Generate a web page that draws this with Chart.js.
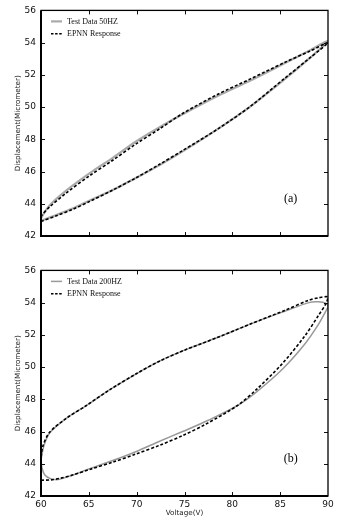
<!DOCTYPE html>
<html>
<head>
<meta charset="utf-8">
<script src="https://cdn.jsdelivr.net/npm/chart.js@4"></script>
<style>
  html, body { margin: 0; padding: 0; background: #fff; }
  #wrap { position: relative; width: 346px; height: 519px; }
  canvas { position: absolute; left: 0; }
  #chartA { top: 0; }
  #chartB { top: 260px; }
</style>
</head>
<body>
<div id="wrap">
  <canvas id="chartA" width="346" height="260"></canvas>
  <canvas id="chartB" width="346" height="259"></canvas>
</div>
<script>
const voltTicks = [60, 65, 70, 75, 80, 85, 90];
const dispTicks = [42, 44, 46, 48, 50, 52, 54, 56];

// (a) 50 Hz loop: rising branch then falling branch
const testA_v = [60.0, 61.6, 63.3, 65.1, 67.5, 69.9, 72.4, 74.8, 78.5, 81.9, 85.4, 88.2, 90.0,
                 88.2, 85.4, 81.9, 78.5, 74.8, 72.4, 69.9, 67.5, 65.1, 62.6, 60.9, 60.0, 60.0];
const testA_d = [42.95, 43.3, 43.7, 44.2, 44.85, 45.6, 46.4, 47.25, 48.65, 50.05, 51.7, 53.1, 54.1,
                 53.55, 52.7, 51.65, 50.7, 49.55, 48.75, 47.85, 46.85, 45.9, 44.8, 43.9, 43.1, 42.95];
const epnnA_v = [60.0, 61.6, 63.3, 65.1, 67.5, 69.9, 72.4, 74.8, 78.5, 81.9, 85.4, 88.2, 90.0,
                 88.2, 85.4, 81.9, 78.5, 74.8, 72.4, 69.9, 67.5, 65.1, 62.6, 60.9, 60.0, 60.0];
const epnnA_d = [42.9, 43.25, 43.65, 44.15, 44.85, 45.6, 46.45, 47.3, 48.65, 50.05, 51.75, 53.1, 54.0,
                 53.5, 52.75, 51.75, 50.8, 49.6, 48.65, 47.7, 46.7, 45.75, 44.65, 43.8, 43.2, 42.9];

// (b) 200 Hz loop
const testB_v = [60.0, 60.1, 60.4, 61.0, 61.8, 63.3, 65.1, 67.5, 69.9, 72.4, 74.8, 77.5, 80.5, 82.5,
                 85.2, 87.6, 89.0, 89.7, 90.0, 89.8, 89.0, 88.0, 85.4, 82.0, 78.5, 75.0, 72.5, 70.0,
                 67.2, 64.7, 62.6, 60.9, 60.3, 60.0];
const testB_d = [44.25, 43.75, 43.3, 43.08, 43.02, 43.3, 43.7, 44.2, 44.75, 45.4, 46.0, 46.7, 47.6, 48.45,
                 49.85, 51.45, 52.65, 53.4, 53.75, 53.95, 54.05, 54.0, 53.45, 52.7, 51.85, 51.05, 50.4, 49.6,
                 48.6, 47.6, 46.8, 45.9, 45.1, 44.25];
const epnnB_v = [60.0, 61.0, 62.0, 63.3, 65.1, 67.5, 69.9, 72.4, 74.8, 77.2, 80.5, 82.5, 85.2, 87.6,
                 89.0, 89.8, 90.0, 89.0, 88.0, 85.4, 82.0, 78.5, 75.0, 72.5, 70.0, 67.2, 64.7, 62.6,
                 60.9, 60.2, 60.0, 60.0];
const epnnB_d = [42.98, 43.0, 43.1, 43.3, 43.65, 44.1, 44.6, 45.15, 45.75, 46.45, 47.6, 48.6, 50.2, 51.95,
                 53.2, 53.95, 54.35, 54.3, 54.15, 53.5, 52.7, 51.85, 51.05, 50.4, 49.6, 48.6, 47.6, 46.8,
                 45.95, 45.1, 44.25, 42.98];

function toPoints(vs, ds) {
    return vs.map((v, i) => ({ x: v, y: ds[i] }));
}

// frame, inward ticks, legend inside the plot, panel tag
const framePlugin = {
    id: 'frame',
    afterDatasetsDraw(chart, args, opts) {
        const ctx = chart.ctx;
        const a = chart.chartArea;
        const x = chart.scales.x;
        const y = chart.scales.y;
        ctx.save();

        ctx.strokeStyle = '#111';
        ctx.lineWidth = 1;
        ctx.beginPath();
        voltTicks.slice(1, -1).forEach(v => {
            const px = Math.round(x.getPixelForValue(v)) + 0.5;
            ctx.moveTo(px, a.bottom); ctx.lineTo(px, a.bottom - 4);
            ctx.moveTo(px, a.top); ctx.lineTo(px, a.top + 4);
        });
        dispTicks.slice(1, -1).forEach(d => {
            const py = Math.round(y.getPixelForValue(d)) + 0.5;
            ctx.moveTo(a.left, py); ctx.lineTo(a.left + 4, py);
            ctx.moveTo(a.right, py); ctx.lineTo(a.right - 4, py);
        });
        ctx.stroke();

        ctx.strokeStyle = '#000';
        ctx.lineWidth = 1.3;
        ctx.strokeRect(a.left, a.top, a.right - a.left, a.bottom - a.top);
        ctx.lineWidth = 2;
        ctx.beginPath();
        ctx.moveTo(a.left, a.top);
        ctx.lineTo(a.left, a.bottom);
        ctx.lineTo(a.right, a.bottom);
        ctx.stroke();

        // legend
        ctx.font = '8px "Liberation Serif"';
        ctx.textBaseline = 'middle';
        ctx.textAlign = 'left';
        chart.data.datasets.forEach((ds, i) => {
            const ly = a.top + 11 + i * 12.3;
            ctx.beginPath();
            ctx.strokeStyle = ds.borderColor;
            ctx.lineWidth = ds.borderWidth;
            ctx.setLineDash(ds.legendDash || []);
            ctx.moveTo(a.left + 10, ly);
            ctx.lineTo(a.left + 21, ly);
            ctx.stroke();
            ctx.setLineDash([]);
            ctx.fillStyle = '#111';
            ctx.fillText(ds.label, a.left + 26, ly + 0.5);
        });

        // panel tag
        ctx.font = '12px "Liberation Serif"';
        ctx.textAlign = 'center';
        ctx.fillStyle = '#000';
        ctx.fillText(opts.tag, x.getPixelForValue(86.1), y.getPixelForValue(44.3));
        ctx.restore();
    }
};

function makeChart(id, tag, testLabel, testPts, epnnPts, testWidth, testColor, showX, xHeight) {
    const ctx = document.getElementById(id).getContext('2d');
    return new Chart(ctx, {
        type: 'scatter',
        data: {
            datasets: [{
                label: testLabel,
                data: testPts,
                showLine: true,
                borderColor: testColor,
                borderWidth: testWidth,
                pointRadius: 0,
                tension: 0.3,
                order: 1
            }, {
                label: 'EPNN Response',
                data: epnnPts,
                showLine: true,
                borderColor: '#000',
                borderWidth: 1.6,
                borderDash: [3, 2],
                legendDash: [2.5, 1.6],
                pointRadius: 0,
                tension: 0.3,
                order: 0
            }]
        },
        options: {
            responsive: false,
            animation: false,
            layout: { padding: { top: 10, right: 18, left: 0, bottom: 0 } },
            plugins: {
                legend: { display: false },
                tooltip: { enabled: false },
                frame: { tag: tag }
            },
            scales: {
                x: {
                    type: 'linear',
                    min: voltTicks[0],
                    max: voltTicks[voltTicks.length - 1],
                    afterBuildTicks: s => { s.ticks = voltTicks.map(v => ({ value: v })); },
                    afterFit: s => { s.height = xHeight; },
                    grid: { display: false, drawTicks: false },
                    border: { display: false },
                    ticks: {
                        display: showX,
                        padding: 3,
                        color: '#111',
                        font: { family: 'DejaVu Sans', size: 9 }
                    },
                    title: {
                        display: showX,
                        text: 'Voltage(V)',
                        color: '#222',
                        padding: { top: 0, bottom: 1.5 },
                        font: { family: 'DejaVu Sans', size: 7.2 }
                    }
                },
                y: {
                    min: dispTicks[0],
                    max: dispTicks[dispTicks.length - 1],
                    afterBuildTicks: s => { s.ticks = dispTicks.map(v => ({ value: v })); },
                    afterFit: s => { s.width = 41; },
                    grid: { display: false, drawTicks: false },
                    border: { display: false },
                    ticks: {
                        padding: 5,
                        color: '#111',
                        font: { family: 'DejaVu Sans', size: 9 }
                    },
                    title: {
                        display: true,
                        text: 'Displacement(Micrometer)',
                        color: '#222',
                        padding: { top: 13.7, bottom: 0 },
                        font: { family: 'DejaVu Sans', size: 7.2 }
                    }
                }
            }
        },
        plugins: [framePlugin]
    });
}

makeChart('chartA', '(a)', 'Test Data 50HZ', toPoints(testA_v, testA_d), toPoints(epnnA_v, epnnA_d),
          2.2, '#aaaaaa', false, 24);
makeChart('chartB', '(b)', 'Test Data 200HZ', toPoints(testB_v, testB_d), toPoints(epnnB_v, epnnB_d),
          1.5, '#999999', true, 23);
</script>
</body>
</html>
